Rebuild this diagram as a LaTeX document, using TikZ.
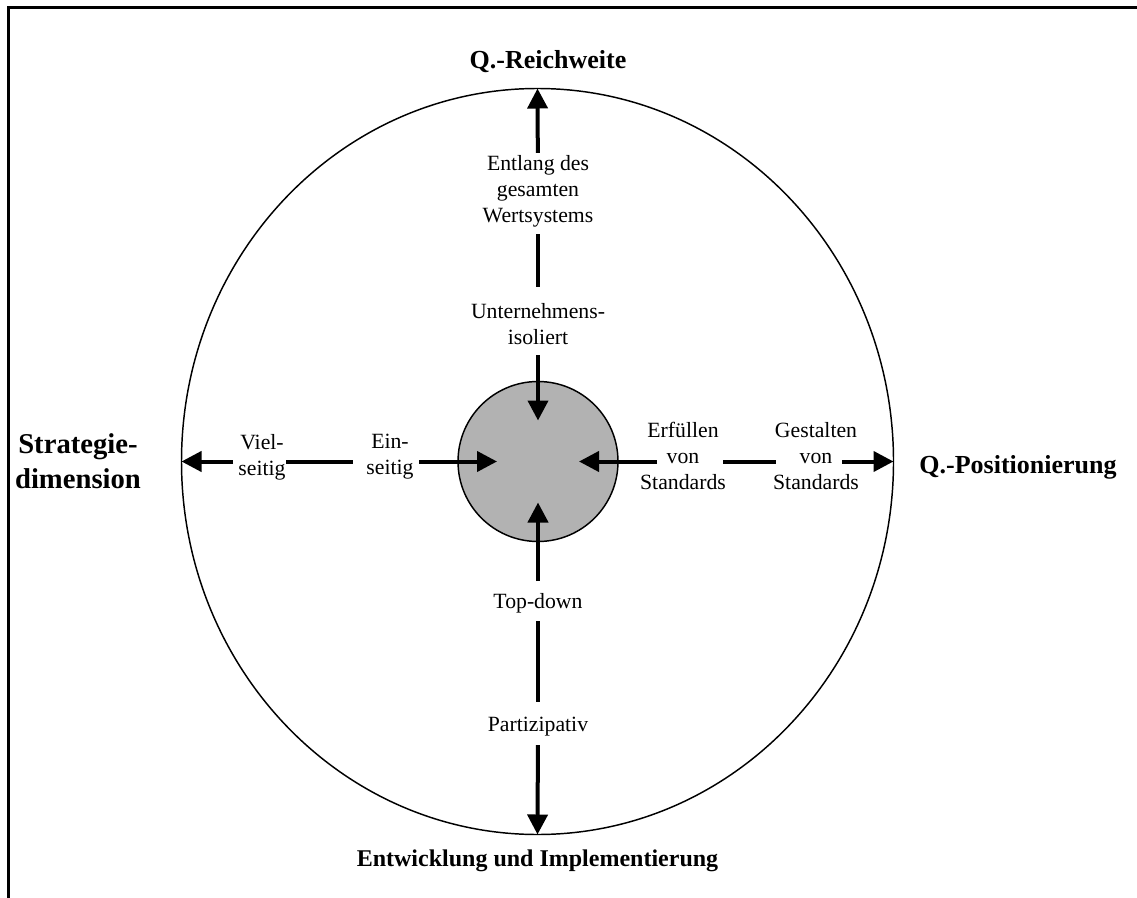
\documentclass[tikz,border=0pt]{standalone}
\usepackage{fontspec}
\setmainfont{Liberation Serif}
\usetikzlibrary{arrows.meta,shapes.geometric}
\begin{document}
\begin{tikzpicture}[x=0.75pt,y=-0.75pt,
  lbl/.style={inner sep=0pt, outer sep=0pt, align=center, font=\fontsize{16.3}{19.5}\selectfont},
  headlbl/.style={inner sep=0pt, outer sep=0pt, align=center, font=\fontsize{19.5}{25.5}\selectfont\bfseries},
  axis/.style={line width=3pt},
  arr/.style={axis, -{Triangle[length=15pt,width=15pt]}},
  framestyle/.style={line width=2.25pt}]
\useasboundingbox (0,0) rectangle (1137,898);
\draw[framestyle] (8,898) -- (8,8) -- (1137,8);
\node[ellipse, draw, line width=1.1pt, minimum width=534pt, minimum height=559.5pt, inner sep=0pt, outer sep=0pt] (outer) at (537.5,461.5) {};
\node[circle, draw, fill=black!30, line width=1.1pt, minimum size=120pt, inner sep=0pt, outer sep=0pt] (hub) at (538,461.5) {};
\coordinate (tN) at (538,420.5);
\coordinate (tS) at (538,502.5);
\coordinate (tW) at (497,461.5);
\coordinate (tE) at (579,461.5);
% labels
\node[headlbl, anchor=base] (reich) at (548,69) {Q.-Reichweite};
\node[lbl] (entlang) at (538,191.5) {Entlang des\\gesamten\\Wertsystems};
\node[lbl] (untern) at (538,324) {Unternehmens-\\isoliert};
\node[lbl] (topdown) at (538,603) {Top-down};
\node[lbl] (partiz) at (538,726.5) {Partizipativ};
\node[lbl] (viel) at (262,457) {Viel-\\seitig};
\node[lbl] (ein) at (390,457) {Ein-\\seitig};
\node[lbl] (erf) at (683,456) {Erfüllen\\von\\Standards};
\node[lbl] (gest) at (816,456) {Gestalten\\von\\Standards};
\node[headlbl, font=\fontsize{21.5}{26}\selectfont\bfseries] (strat) at (78,461) {Strategie-\\dimension};
\node[headlbl, anchor=base] (qpos) at (1018,473) {Q.-Positionierung};
\node[headlbl, anchor=base, font=\fontsize{18}{22}\selectfont\bfseries] (entw) at (537.5,866) {Entwicklung und Implementierung};
% vertical axis
\draw[arr, shorten <=28.9pt] (entlang.center) -- (outer.north);
\draw[axis, shorten <=31.9pt, shorten >=27.75pt] (entlang.center) -- (untern.center);
\draw[arr, shorten <=23.25pt] (untern.center) -- (tN);
\draw[arr, shorten <=16.5pt] (topdown.center) -- (tS);
\draw[axis, shorten <=13.5pt, shorten >=18.4pt] (topdown.center) -- (partiz.center);
\draw[arr, shorten <=13.9pt] (partiz.center) -- (outer.south);
% horizontal axis
\draw[arr, shorten <=21.75pt] (viel |- hub) -- (outer.west);
\draw[axis, shorten <=18pt, shorten >=27.75pt] (viel |- hub) -- (ein |- hub);
\draw[arr, shorten <=21.75pt] (ein |- hub) -- (tW);
\draw[arr, shorten <=19.5pt] (erf |- hub) -- (tE);
\draw[axis, shorten <=30pt, shorten >=30pt] (erf |- hub) -- (gest |- hub);
\draw[arr, shorten <=19.5pt] (gest |- hub) -- (outer.east);
\end{tikzpicture}
\end{document}
